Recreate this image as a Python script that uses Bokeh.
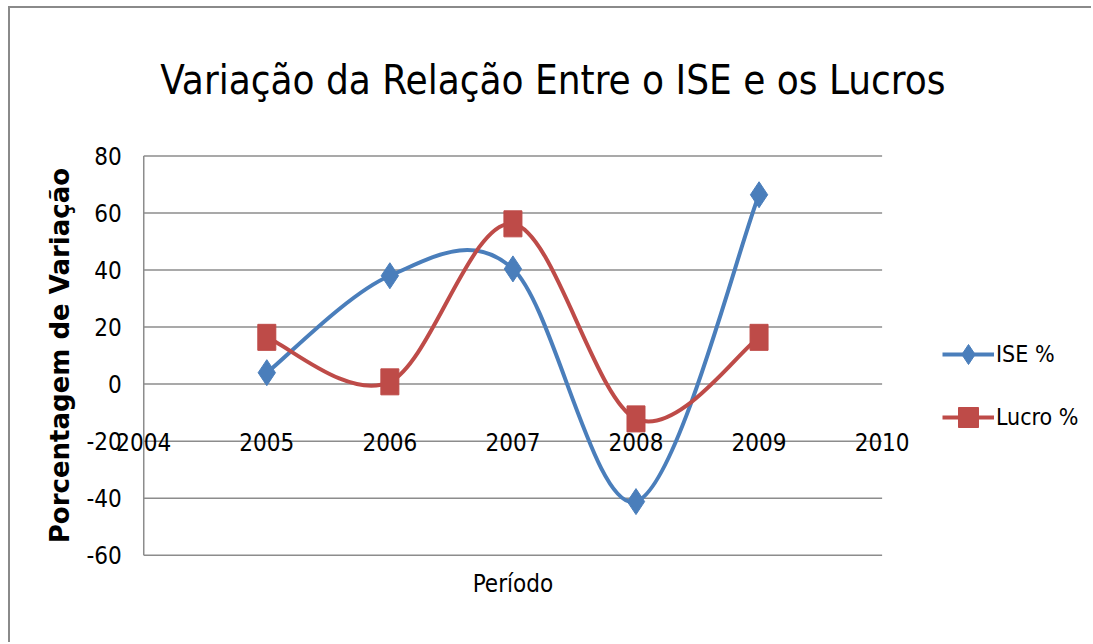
import math
from bokeh.plotting import figure
from bokeh.models import Range1d, Legend, LegendItem, ColumnDataSource
from bokeh.core.properties import value
from bokeh.embed import file_html
from bokeh.resources import INLINE

# ---- data ----
years = [2005, 2006, 2007, 2008, 2009]
ise = [4, 38, 40.4, -41.2, 66.4]
lucro = [16.4, 0.8, 56.2, -12.2, 16.4]
x_tick_years = [2004, 2005, 2006, 2007, 2008, 2009, 2010]
y_ticks = [-60, -40, -20, 0, 20, 40, 60, 80]

title_text = "Variação da Relação Entre o ISE e os Lucros"
x_label = "Período"
y_label = "Porcentagem de Variação"
names = ["ISE %", "Lucro %"]

# ---- styles / layout ----
BLUE = "#4A7EBB"
RED = "#BE4B48"
GRID = "#8C8C8C"
FONT = "DejaVu Sans Condensed, Roboto, sans-serif"

W, H = 1083, 636            # figure size (2px left/top border inside)
CW, CH = W - 2, H - 2       # drawable canvas
OX, OY = 10, 8              # canvas origin on the page picture
# pixel box of the chart's plot area (2004..2010, -60..80)
PL, PR, PT, PB = 143, 880, 155, 553

xmin, xmax = x_tick_years[0], x_tick_years[-1]
ymin, ymax = y_ticks[0], y_ticks[-1]
xs_ = (PR - PL) / (xmax - xmin)
ys_ = (PB - PT) / (ymax - ymin)
x_range = Range1d(xmin - (PL - OX) / xs_, xmax + (OX + CW - PR) / xs_)
y_range = Range1d(ymin - (OY + CH - PB) / ys_, ymax + (PT - OY) / ys_)

p = figure(width=W, height=H, output_backend="svg", toolbar_location=None,
           x_range=x_range, y_range=y_range, x_axis_type=None, y_axis_type=None,
           min_border=0)
p.styles = {"border-left": "2px solid #8a8a8a", "border-top": "2px solid #8a8a8a",
            "box-sizing": "border-box", "margin-left": "8px", "margin-top": "6px"}
p.outline_line_color = None
p.grid.visible = False

# gridlines and left axis line
p.segment(x0=[xmin] * len(y_ticks), x1=[xmax] * len(y_ticks), y0=y_ticks, y1=y_ticks,
          line_color=GRID, line_width=1.5)
p.segment(x0=[xmin], x1=[xmin], y0=[ymin], y1=[ymax], line_color=GRID, line_width=1.5)

# y tick labels
p.text(x=[xmin] * len(y_ticks), y=y_ticks, text=[str(t) for t in y_ticks],
       x_offset=-22, text_font=value(FONT), text_font_size="24px",
       text_color="black", text_align="right", text_baseline="middle")
# x tick labels sit on the -20 line, as in the original
p.text(x=x_tick_years, y=[-20] * len(x_tick_years),
       text=[str(t) for t in x_tick_years], y_offset=1,
       text_font=value(FONT), text_font_size="24px", text_color="black",
       text_align="center", text_baseline="middle")
# axis titles
p.text(x=[xmin], y=[(ymin + ymax) / 2], text=[y_label], x_offset=-84,
       angle=math.pi / 2, text_font=value("DejaVu Sans"), text_font_style="bold",
       text_font_size="26px", text_color="black", text_align="center",
       text_baseline="middle")
p.text(x=[(xmin + xmax) / 2], y=[ymin], text=[x_label], y_offset=29,
       text_font=value(FONT), text_font_size="24px", text_color="black",
       text_align="center", text_baseline="middle")
# chart title
p.text(x=[(xmin + xmax) / 2], y=[ymax], text=[title_text], x_offset=40, y_offset=-76,
       text_font=value(FONT), text_font_size="40px", text_color="black",
       text_align="center", text_baseline="alphabetic")


def smooth(xs, ys):
    """Catmull-Rom style bezier control points (Excel smoothed line)."""
    n = len(xs)
    out = dict(x0=[], y0=[], x1=[], y1=[], cx0=[], cy0=[], cx1=[], cy1=[])
    for i in range(n - 1):
        xp, yp = (xs[i - 1], ys[i - 1]) if i > 0 else (xs[i], ys[i])
        xn, yn = (xs[i + 2], ys[i + 2]) if i + 2 < n else (xs[i + 1], ys[i + 1])
        out["x0"].append(xs[i]); out["y0"].append(ys[i])
        out["x1"].append(xs[i + 1]); out["y1"].append(ys[i + 1])
        out["cx0"].append(xs[i] + (xs[i + 1] - xp) / 6)
        out["cy0"].append(ys[i] + (ys[i + 1] - yp) / 6)
        out["cx1"].append(xs[i + 1] - (xn - xs[i]) / 6)
        out["cy1"].append(ys[i + 1] - (yn - ys[i]) / 6)
    return ColumnDataSource(out)


b_ise = p.bezier(x0="x0", y0="y0", x1="x1", y1="y1", cx0="cx0", cy0="cy0",
                 cx1="cx1", cy1="cy1", source=smooth(years, ise),
                 line_color=BLUE, line_width=4)
b_luc = p.bezier(x0="x0", y0="y0", x1="x1", y1="y1", cx0="cx0", cy0="cy0",
                 cx1="cx1", cy1="cy1", source=smooth(years, lucro),
                 line_color=RED, line_width=4)

m_ise = p.scatter(years, ise, marker="diamond", size=26,
                  fill_color=BLUE, line_color=BLUE)
m_luc = p.scatter(years, lucro, marker="square", size=16,
                  fill_color=RED, line_color=RED)
p.rect(years, lucro, width=18, height=26, width_units="screen",
       height_units="screen", fill_color=RED, line_color=RED)

# legend (rows centred at y=352 and y=415, glyphs starting at x=942)
legend = Legend(items=[LegendItem(label=names[0], renderers=[b_ise, m_ise]),
                       LegendItem(label=names[1], renderers=[b_luc, m_luc])],
                location=(942 - OX, OY + CH - 440), orientation="vertical",
                glyph_width=52, glyph_height=50, label_height=50,
                spacing=13, padding=0, margin=0, label_standoff=2,
                border_line_color=None, background_fill_alpha=0,
                label_text_font=FONT, label_text_font_size="23px",
                label_text_color="black")
p.add_layout(legend, "center")

open("out.html", "w").write(file_html(p, INLINE))
